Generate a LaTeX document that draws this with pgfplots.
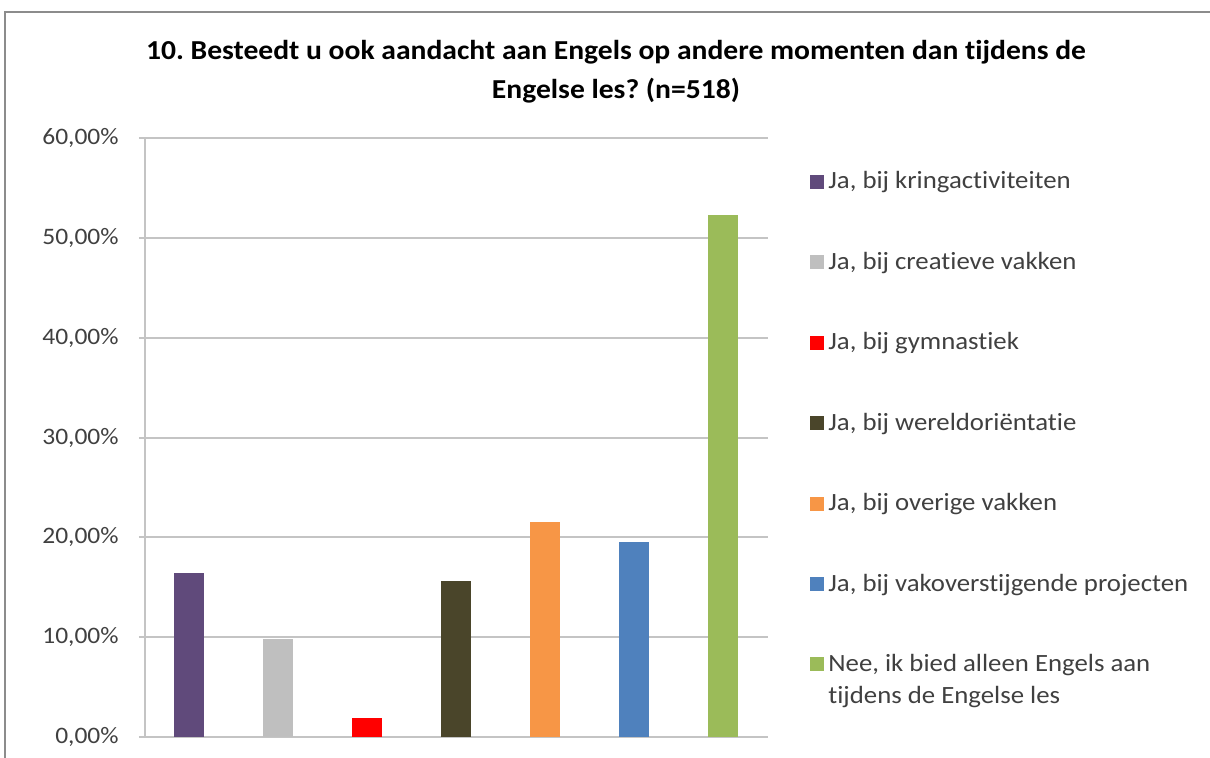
\documentclass[border=0pt]{standalone}
\usepackage{pgfplots}
\pgfplotsset{compat=1.18}
\usepackage{fontspec}
\setmainfont{Carlito}[FakeStretch=1.08, Ligatures={NoCommon}]
\frenchspacing
\definecolor{cpurple}{HTML}{604A7B}
\definecolor{cgrey}{HTML}{BFBFBF}
\definecolor{cred}{HTML}{FF0000}
\definecolor{colive}{HTML}{4A452A}
\definecolor{corange}{HTML}{F79646}
\definecolor{cblue}{HTML}{4F81BD}
\definecolor{cgreen}{HTML}{9BBB59}
\definecolor{gridc}{HTML}{C4C4C4}
\definecolor{txt}{HTML}{404040}
\begin{document}
\begin{tikzpicture}[x=0.5pt,y=-0.5pt]
\useasboundingbox (0,0) rectangle (1210,758);
\draw[draw=gray!90, line width=1pt] (1210,12) -- (5,12) -- (5,758);
\node[font=\fontsize{13.7pt}{19.5pt}\selectfont\bfseries, align=center, text=black] at (616,72)
  {10. Besteedt u ook aandacht aan Engels op andere momenten dan tijdens de\\Engelse les? (n=518)};
\begin{axis}[
  at={(72.5pt,-368.5pt)}, anchor=south west,
  scale only axis, width=311.5pt, height=299.5pt,
  xmin=-0.5, xmax=6.5, ymin=0, ymax=60,
  ytick={0,10,...,60}, xtick=\empty,
  ymajorgrids, grid style={draw=gridc, line width=1pt},
  axis x line*=bottom, axis y line*=left,
  axis line style={draw=gridc, line width=1pt},
  tick style={draw=gridc, line width=1pt},
  major tick length=3pt, tick align=outside,
  /pgf/number format/assume math mode=true,
  yticklabel={\pgfmathprintnumber[fixed,fixed zerofill,precision=2,use comma]{\tick}\%},
  yticklabel style={font=\fontsize{11.8pt}{14pt}\selectfont, text=txt, inner sep=0pt, xshift=-10pt},
  legend style={at={(1.0674,0.951)}, anchor=north west, draw=none, fill=none,
    font=\fontsize{12.4pt}{16pt}\selectfont, text=txt, row sep=26.1pt, inner sep=0pt,
    cells={align=left, anchor=west}},
  legend image code/.code={\fill[#1] (0pt,-3.5pt) rectangle (7pt,3.5pt);},
  legend cell align=left,
]
\addplot[ybar, bar width=15pt, bar shift=0pt, fill=cpurple, draw=none] coordinates {(0,16.41)};
\addlegendentry{Ja, bij kringactiviteiten}
\addplot[ybar, bar width=15pt, bar shift=0pt, fill=cgrey, draw=none] coordinates {(1,9.85)};
\addlegendentry{Ja, bij creatieve vakken}
\addplot[ybar, bar width=15pt, bar shift=0pt, fill=cred, draw=none] coordinates {(2,1.93)};
\addlegendentry{Ja, bij gymnastiek}
\addplot[ybar, bar width=15pt, bar shift=0pt, fill=colive, draw=none] coordinates {(3,15.64)};
\addlegendentry{Ja, bij wereldoriëntatie}
\addplot[ybar, bar width=15pt, bar shift=0pt, fill=corange, draw=none] coordinates {(4,21.53)};
\addlegendentry{Ja, bij overige vakken}
\addplot[ybar, bar width=15pt, bar shift=0pt, fill=cblue, draw=none] coordinates {(5,19.50)};
\addlegendentry{Ja, bij vakoverstijgende projecten}
\addplot[ybar, bar width=15pt, bar shift=0pt, fill=cgreen, draw=none,
  legend image code/.code={\fill[cgreen] (0pt,4.5pt) rectangle (7pt,11.5pt);}] coordinates {(6,52.32)};
\addlegendentry{Nee, ik bied alleen Engels aan\\tijdens de Engelse les}
\end{axis}
\end{tikzpicture}
\end{document}
